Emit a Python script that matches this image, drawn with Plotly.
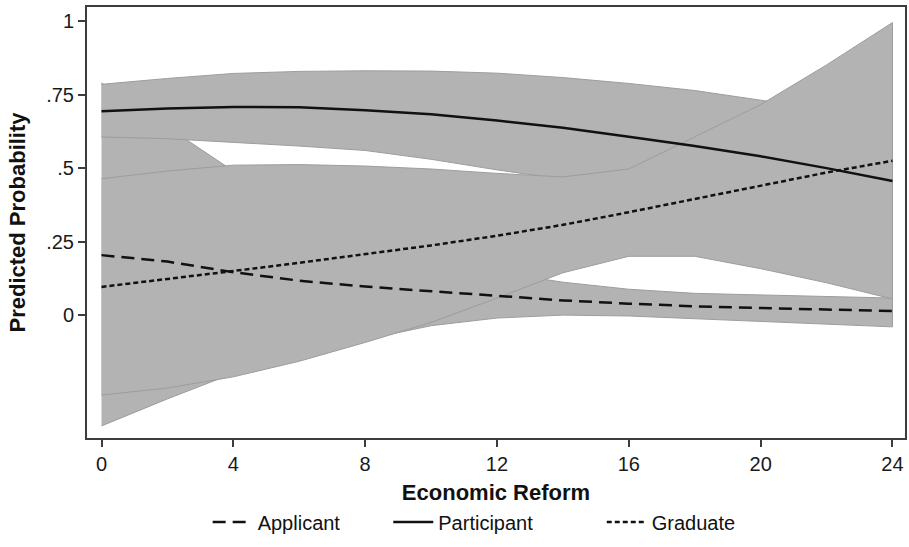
import plotly.graph_objects as go

# Economic reform score (x) at which predicted probabilities were evaluated
reform = [0, 2, 4, 6, 8, 10, 12, 14, 16, 18, 20, 22, 24]

# Predicted probabilities and 95% confidence bounds by membership status
applicant = [0.204, 0.182, 0.146, 0.117, 0.097, 0.081, 0.066, 0.050, 0.039, 0.030, 0.024, 0.019, 0.014]
applicant_hi = [0.790, 0.640, 0.490, 0.367, 0.277, 0.201, 0.146, 0.112, 0.088, 0.074, 0.068, 0.063, 0.058]
applicant_lo = [-0.377, -0.285, -0.198, -0.133, -0.083, -0.036, -0.010, 0.000, -0.003, -0.012, -0.022, -0.031, -0.040]

participant = [0.693, 0.703, 0.708, 0.707, 0.697, 0.683, 0.662, 0.637, 0.607, 0.575, 0.540, 0.500, 0.456]
participant_hi = [0.785, 0.805, 0.822, 0.829, 0.831, 0.830, 0.823, 0.808, 0.788, 0.764, 0.731, 0.700, 0.665]
participant_lo = [0.606, 0.600, 0.588, 0.575, 0.560, 0.530, 0.494, 0.462, 0.428, 0.390, 0.350, 0.300, 0.245]

graduate = [0.096, 0.122, 0.150, 0.178, 0.207, 0.237, 0.270, 0.307, 0.350, 0.395, 0.440, 0.485, 0.525]
graduate_hi = [0.464, 0.490, 0.510, 0.512, 0.507, 0.497, 0.482, 0.470, 0.497, 0.606, 0.716, 0.851, 0.995]
graduate_lo = [-0.272, -0.248, -0.210, -0.157, -0.093, -0.025, 0.058, 0.144, 0.200, 0.200, 0.158, 0.110, 0.055]

y_ticks = [0, 0.25, 0.5, 0.75, 1]
y_labels = ["0", ".25", ".5", ".75", "1"]
x_ticks = [0, 4, 8, 12, 16, 20, 24]

BAND_FILL = "#b3b3b3"
BAND_EDGE = "#9d9d9d"
INK = "#111111"
FONT = "Liberation Sans, Arial, Helvetica, sans-serif"

fig = go.Figure()


def ci_band(lo, hi):
    return go.Scatter(
        x=reform + reform[::-1],
        y=hi + lo[::-1],
        fill="toself",
        fillcolor=BAND_FILL,
        mode="lines",
        line=dict(color=BAND_EDGE, width=1),
        hoverinfo="skip",
        showlegend=False,
    )


# confidence regions first, in drawing order applicant -> participant -> graduate
fig.add_trace(ci_band(applicant_lo, applicant_hi))
fig.add_trace(ci_band(participant_lo, participant_hi))
fig.add_trace(ci_band(graduate_lo, graduate_hi))

# point predictions on top, each with its own legend box along the bottom
fig.add_trace(go.Scatter(x=reform, y=applicant, mode="lines", name="Applicant", legend="legend",
                         line=dict(color=INK, width=2.5, dash="13px,7px")))
fig.add_trace(go.Scatter(x=reform, y=participant, mode="lines", name="Participant", legend="legend2",
                         line=dict(color=INK, width=2.5)))
fig.add_trace(go.Scatter(x=reform, y=graduate, mode="lines", name="Graduate", legend="legend3",
                         line=dict(color=INK, width=2.5, dash="5px,3px")))

axis_common = dict(
    showgrid=False,
    zeroline=False,
    showline=True,
    mirror=True,
    linecolor="#3c3c3c",
    linewidth=2,
    ticks="outside",
    ticklen=7,
    tickwidth=1.5,
    tickcolor="#3c3c3c",
    tickfont=dict(family=FONT, size=20, color="#1a1a1a"),
)

fig.update_xaxes(
    range=[-0.44, 24.38],
    tickvals=x_ticks,
    title=dict(text="<b>Economic Reform</b>", font=dict(family=FONT, size=22, color=INK), standoff=11),
    **axis_common,
)
fig.update_yaxes(
    range=[-0.418, 1.048],
    tickvals=y_ticks,
    ticktext=y_labels,
    title=dict(text="<b>Predicted Probability</b>", font=dict(family=FONT, size=22, color=INK), standoff=14),
    **axis_common,
)

legend_style = dict(
    orientation="h",
    y=-0.195,
    yanchor="middle",
    xanchor="left",
    font=dict(family=FONT, size=20, color=INK),
    itemwidth=40,
    bgcolor="rgba(0,0,0,0)",
)

fig.update_layout(
    width=909,
    height=547,
    margin=dict(l=87, r=2, t=7, b=109),
    paper_bgcolor="white",
    plot_bgcolor="white",
    font=dict(family=FONT, color=INK),
    legend=dict(x=0.1475, **legend_style),
    legend2=dict(x=0.3683, **legend_style),
    legend3=dict(x=0.6293, **legend_style),
)

fig.write_html("out.html")
